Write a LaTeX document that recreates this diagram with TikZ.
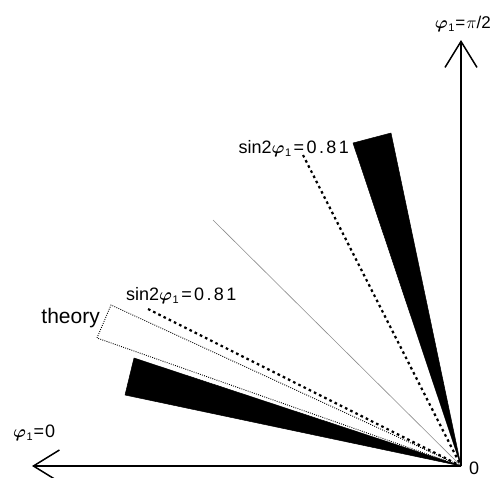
\documentclass[tikz,border=0pt]{standalone}
\usepackage{fontspec}
\usepackage{bm}
\setmainfont{Liberation Sans}
\newfontfamily\spaced[LetterSpace=13]{Liberation Sans}
\usetikzlibrary{arrows.meta}
\tikzset{
  axis/.style={line width=1.5pt,-{Straight Barb[length=26pt,width=32pt,line width=1.5pt]}},
  wedge/.style={fill=black,draw=black,line width=0.5pt,line join=round},
  theorybox/.style={draw=black,line width=0.9pt,dash pattern=on 0.9pt off 1.3pt},
  thickdash/.style={draw=black,line width=2.2pt,dash pattern=on 2.6pt off 3.2pt},
  faint/.style={draw=black!45,line width=0.6pt},
  lbl/.style={inner sep=0pt,font=\fontsize{18}{20}\selectfont}
}
\newcommand{\phione}{$\bm{\varphi}$\kern0.5pt\raisebox{-0.35ex}{\fontsize{11}{11}\selectfont 1}}
\newcommand{\eqs}{\kern2.5pt=\kern2.5pt}
\begin{document}
\begin{tikzpicture}[x=1pt,y=-1pt]
\useasboundingbox (0,0) rectangle (493,477);
\coordinate (O) at (461,466);
\coordinate (Xtip) at (32,466);
\coordinate (Ytip) at (461,40);
\coordinate (W1a) at (353,143);
\coordinate (W1b) at (391,133);
\coordinate (W2a) at (134,358);
\coordinate (W2b) at (125,395);
\coordinate (T1) at (111,305);
\coordinate (T2) at (97,338);
\coordinate (D1) at (303,155);
\coordinate (D2) at (148,309);
\coordinate (G) at (213,220);
% wedges
\fill[wedge] (O) -- (W1a) -- (W1b) -- cycle;
\fill[wedge] (O) -- (W2a) -- (W2b) -- cycle;
\draw[theorybox] (O) -- (T1) -- (T2) -- cycle;
\draw[thickdash] (D1) -- (O);
\draw[thickdash] (D2) -- (O);
\draw[faint] (G) -- (O);
% axes
\draw[axis] (O) -- (Xtip);
\draw[axis] (O) -- (Ytip);
% labels
\node[lbl,anchor=base east] (l1) at (349,153) {sin2\phione\eqs{\spaced 0.81}};
\node[lbl,anchor=base west] (l2) at (126,300) {sin2\phione\eqs{\spaced 0.81}};
\node[lbl,anchor=base east,font=\fontsize{21}{24}\selectfont] (th) at (100,323) {theory};
\node[lbl,anchor=base west] (x0) at (13,437) {\phione\kern1pt=\kern1pt0};
\node[lbl,anchor=base east,font=\fontsize{17}{19}\selectfont] (y0) at (491,28) {\phione\kern1pt=\kern1pt$\pi$/2};
\node[lbl,anchor=base west] (o) at (469,474) {0};
\end{tikzpicture}
\end{document}
